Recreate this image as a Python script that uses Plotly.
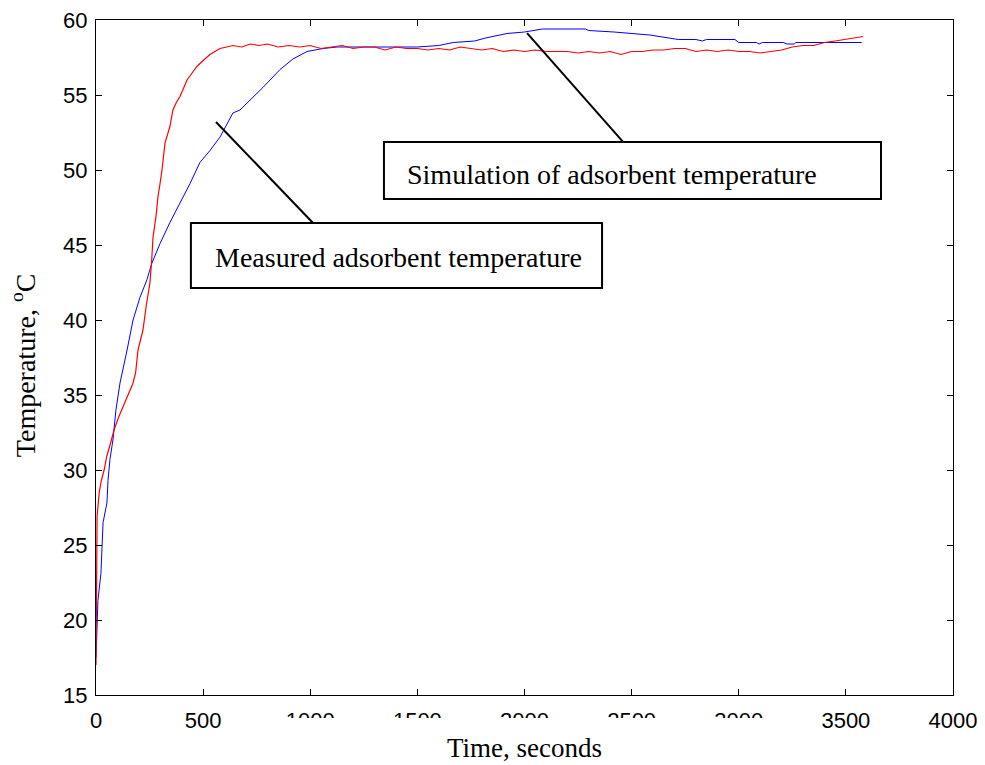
import plotly.graph_objects as go

# Measured adsorbent temperature (red)
meas_t = [0, 2, 5, 15, 25, 38, 50, 68, 85, 105, 125, 150, 173, 185, 196, 210, 219, 235, 252, 260,
          266, 280, 289, 300, 308, 322, 345, 359, 375, 392, 410, 425, 450, 471, 500, 532, 555, 579,
          610, 639, 680, 720, 760, 800, 850, 900, 950, 1000, 1050, 1100, 1150, 1200, 1250, 1300,
          1350, 1400, 1450, 1500, 1550, 1600, 1650, 1700, 1750, 1800, 1850, 1900, 1950, 2000, 2050,
          2100, 2150, 2200, 2250, 2300, 2350, 2400, 2450, 2500, 2550, 2600, 2650, 2700, 2750, 2800,
          2850, 2900, 2950, 3000, 3050, 3100, 3150, 3200, 3250, 3300, 3350, 3400, 3450, 3500, 3550, 3580]
meas_T = [17.0, 23.5, 26.9, 28.5, 29.3, 30.0, 30.9, 31.8, 32.7, 33.5, 34.2, 35.1, 35.8, 36.5, 38.0, 38.8,
          39.3, 41.0, 42.5, 44.0, 45.5, 46.9, 48.2, 49.2, 50.0, 51.8, 52.9, 54.0, 54.5, 54.9, 55.5, 56.0,
          56.5, 56.9, 57.3, 57.7, 57.9, 58.1, 58.2, 58.3, 58.2, 58.4, 58.3, 58.4, 58.2, 58.3, 58.2, 58.3,
          58.1, 58.2, 58.3, 58.1, 58.2, 58.2, 58.0, 58.2, 58.1, 58.1, 58.0, 58.1, 58.0, 58.2, 58.1, 58.0,
          58.1, 57.9, 58.0, 57.9, 58.0, 57.9, 57.9, 57.9, 57.8, 57.9, 57.8, 57.9, 57.7, 57.9, 57.9, 58.0,
          58.0, 58.1, 58.1, 57.9, 58.0, 57.9, 58.0, 57.9, 57.9, 57.8, 57.9, 58.0, 58.2, 58.3, 58.3, 58.5,
          58.6, 58.7, 58.8, 58.9]

# Simulation of adsorbent temperature (blue)
sim_t = [0, 5, 9, 23, 33, 51, 56, 65, 79, 93, 112, 145, 173, 205, 238, 261, 299, 345, 392, 439, 485,
         532, 579, 639, 672, 779, 859, 919, 985, 1060, 1125, 1300, 1500, 1600, 1667, 1767, 1818, 1918,
         2000, 2084, 2284, 2300, 2418, 2585, 2718, 2800, 2830, 2850, 2982, 3000, 3083, 3095, 3110,
         3208, 3225, 3260, 3266, 3574]
sim_T = [17.5, 19.5, 21.3, 23.1, 26.5, 27.8, 29.3, 30.7, 32.0, 34.0, 35.8, 38.0, 40.0, 41.5, 42.7, 43.8,
         45.1, 46.5, 47.8, 49.1, 50.5, 51.3, 52.2, 53.8, 54.0, 55.5, 56.7, 57.4, 57.9, 58.1, 58.2, 58.2,
         58.2, 58.3, 58.5, 58.6, 58.8, 59.1, 59.2, 59.4, 59.4, 59.3, 59.2, 59.0, 58.7, 58.7, 58.6, 58.7,
         58.7, 58.5, 58.5, 58.4, 58.5, 58.5, 58.4, 58.4, 58.5, 58.5]

x_ticks = [0, 500, 1000, 1500, 2000, 2500, 3000, 3500, 4000]
y_ticks = [15, 20, 25, 30, 35, 40, 45, 50, 55, 60]

fig = go.Figure()
fig.add_trace(go.Scatter(x=sim_t, y=sim_T, mode="lines", line=dict(color="#0000FF", width=1),
                         name="Simulation of adsorbent temperature"))
fig.add_trace(go.Scatter(x=meas_t, y=meas_T, mode="lines", line=dict(color="#FF0000", width=1.2),
                         name="Measured adsorbent temperature"))

box = dict(color="black", width=2)
# label boxes
fig.add_shape(type="rect", x0=1344, x1=3664, y0=48.07, y1=51.87, line=box, fillcolor="white")
fig.add_shape(type="rect", x0=443, x1=2362, y0=42.13, y1=46.47, line=box, fillcolor="white")
# leader lines
fig.add_shape(type="line", x0=2012, y0=59.13, x1=2460, y1=51.87, line=box)
fig.add_shape(type="line", x0=560, y0=53.2, x1=1013, y1=46.47, line=box)

fig.add_annotation(x=1442, y=49.7, text="Simulation of adsorbent temperature", showarrow=False,
                   xanchor="left", yanchor="middle",
                   font=dict(family="Liberation Serif", size=28, color="black"))
fig.add_annotation(x=546, y=44.15, text="Measured adsorbent temperature", showarrow=False,
                   xanchor="left", yanchor="middle",
                   font=dict(family="Liberation Serif", size=28, color="black"))

# y axis title as a rotated annotation
fig.add_annotation(xref="paper", yref="paper", x=-0.0845, y=0.488, text="Temperature, <sup>o</sup>C",
                   textangle=-90, showarrow=False, xanchor="center", yanchor="middle",
                   font=dict(family="Liberation Serif", size=28, color="black"))

# white patch hiding the lower part of some tick labels (as in the reference)
fig.add_shape(type="rect", xref="paper", yref="paper", x0=0.194, x1=0.821, y0=-0.059, y1=-0.034,
              line=dict(width=0), fillcolor="white", layer="above")

axis_common = dict(showline=True, linecolor="black", linewidth=1, mirror="ticks", ticks="inside",
                   ticklen=6, tickcolor="black", showgrid=False, zeroline=False, automargin=False,
                   ticklabeloverflow="allow",
                   tickfont=dict(family="Liberation Sans", size=22, color="black"))

fig.update_xaxes(range=[0, 4000], tickvals=x_ticks, ticktext=[str(v) for v in x_ticks],
                 ticklabelstandoff=6,
                 title=dict(text="Time, seconds", font=dict(family="Liberation Serif", size=27, color="black"),
                            standoff=4),
                 **axis_common)
fig.update_yaxes(range=[15, 60], tickvals=y_ticks, ticktext=[str(v) for v in y_ticks],
                 ticklabelstandoff=3,
                 **axis_common)

# the page body adds an 8px offset, so margins are reduced accordingly
fig.update_layout(width=985, height=765, margin=dict(l=88, r=40, t=12, b=78),
                  plot_bgcolor="white", paper_bgcolor="white", showlegend=False)

fig.write_html("out.html")
